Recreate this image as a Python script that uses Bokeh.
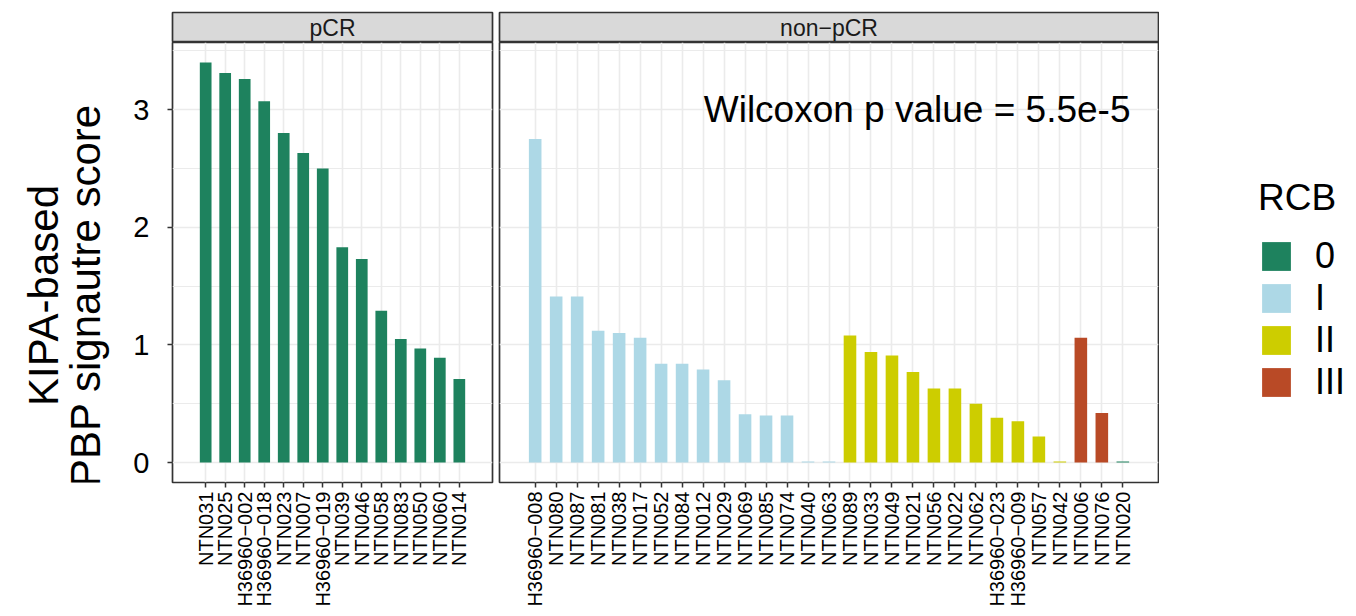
from math import pi
from bokeh.plotting import figure
from bokeh.models import (ColumnDataSource, FactorRange, Range1d, FixedTicker,
                          Label, Legend, LegendItem)
from bokeh.layouts import row, column
from bokeh.transform import factor_cmap
from bokeh.embed import file_html
from bokeh.resources import INLINE

FONT = "Liberation Sans"

# ---------------- data ----------------
pcr_samples = ["NTN031", "NTN025", "H36960\u2212002", "H36960\u2212018", "NTN023", "NTN007",
               "H36960\u2212019", "NTN039", "NTN046", "NTN058", "NTN083", "NTN050",
               "NTN060", "NTN014"]
pcr_scores = [3.40, 3.31, 3.26, 3.07, 2.80, 2.63, 2.50, 1.83, 1.73, 1.29, 1.05, 0.97,
              0.89, 0.71]
pcr_rcb = ["0", "0", "0", "0", "0", "0", "0", "0", "0", "0", "0", "0", "0", "0"]

nonpcr_samples = ["H36960\u2212008", "NTN080", "NTN087", "NTN081", "NTN038", "NTN017",
                  "NTN052", "NTN084", "NTN012", "NTN029", "NTN069", "NTN085", "NTN074",
                  "NTN040", "NTN063", "NTN089", "NTN033", "NTN049", "NTN021", "NTN056",
                  "NTN022", "NTN062", "H36960\u2212023", "H36960\u2212009", "NTN057",
                  "NTN042", "NTN006", "NTN076", "NTN020"]
nonpcr_scores = [2.75, 1.41, 1.41, 1.12, 1.10, 1.06, 0.84, 0.84, 0.79, 0.70, 0.41, 0.40,
                 0.40, 0.008, 0.008, 1.08, 0.94, 0.91, 0.77, 0.63, 0.63, 0.50, 0.38, 0.35,
                 0.22, 0.008, 1.06, 0.42, 0.008]
nonpcr_rcb = ["I", "I", "I", "I", "I", "I", "I", "I", "I", "I", "I", "I", "I", "I", "I",
              "II", "II", "II", "II", "II", "II", "II", "II", "II", "II", "II",
              "III", "III", "0"]

rcb_levels = ["0", "I", "II", "III"]
rcb_palette = ["#1E825E", "#ADD8E6", "#CDCD00", "#B94A26"]

panel_titles = ["pCR", "non\u2212pCR"]
y_ticks = [0, 1, 2, 3]
y_minor = [0.5, 1.5, 2.5, 3.5]
y_title_lines = ["KIPA-based", "PBP signautre score"]
annot_text = "Wilcoxon p value = 5.5e-5"
annot_y = 3.0

# ---------------- layout constants ----------------
GRID = "#EBEBEB"
BORDER = "#333333"
TITLE_W = 110
LEFT = 172
FRAME_H = 440
BOTTOM = 128
PANEL_H = FRAME_H + BOTTOM

ymax = max(pcr_scores + nonpcr_scores)
y_range = Range1d(-0.05 * ymax, 1.05 * ymax)
cmap = factor_cmap("rcb", palette=rcb_palette, factors=rcb_levels)


def bare(width, height, left, right, top, bottom, x_range=None, y_rng=None):
    f = figure(width=width, height=height, min_border_left=left, min_border_right=right,
               min_border_top=top, min_border_bottom=bottom,
               x_axis_location=None, y_axis_location=None,
               x_range=x_range if x_range is not None else Range1d(0, 1),
               y_range=y_rng if y_rng is not None else Range1d(0, 1),
               output_backend="svg", toolbar_location=None)
    f.grid.visible = False
    f.outline_line_color = None
    return f


def make_panel(samples, scores, rcb, width, left, right, show_y):
    src = ColumnDataSource(dict(sample=samples, score=scores, rcb=rcb))
    p = figure(x_range=FactorRange(factors=samples, range_padding=1.2,
                                   range_padding_units="absolute"),
               y_range=y_range, width=width, height=PANEL_H,
               min_border_left=left, min_border_right=right,
               min_border_top=0, min_border_bottom=BOTTOM,
               y_axis_location="left" if show_y else None,
               output_backend="svg", toolbar_location=None)
    p.vbar(x="sample", top="score", width=0.6, source=src, line_color=None,
           fill_color=cmap)
    p.background_fill_color = "white"
    p.outline_line_color = BORDER
    p.outline_line_width = 1.7
    p.xgrid.grid_line_color = GRID
    p.xgrid.grid_line_width = 1.6
    p.ygrid.ticker = FixedTicker(ticks=y_ticks, minor_ticks=y_minor)
    p.ygrid.grid_line_color = GRID
    p.ygrid.grid_line_width = 1.6
    p.ygrid.minor_grid_line_color = GRID
    p.ygrid.minor_grid_line_width = 1.0
    xa = p.xaxis[0]
    xa.major_label_orientation = pi / 2
    xa.major_label_text_font = FONT
    xa.major_label_text_font_size = "20px"
    xa.major_label_text_color = "black"
    xa.major_label_standoff = 4
    xa.major_tick_out = 5
    xa.major_tick_in = 0
    xa.major_tick_line_color = BORDER
    xa.major_tick_line_width = 1.5
    xa.axis_line_color = None
    if show_y:
        ya = p.yaxis[0]
        ya.ticker = FixedTicker(ticks=y_ticks, minor_ticks=y_minor)
        ya.major_label_text_font = FONT
        ya.major_label_text_font_size = "29px"
        ya.major_label_text_color = "black"
        ya.major_label_standoff = 18
        ya.major_tick_out = 5
        ya.major_tick_in = 0
        ya.major_tick_line_color = BORDER
        ya.major_tick_line_width = 1.5
        ya.minor_tick_line_color = None
        ya.axis_line_color = None
    return p, src


def make_strip(text, width, left, right):
    s = bare(width, 42, left, right, 12, 0)
    s.background_fill_color = "#D9D9D9"
    s.outline_line_color = BORDER
    s.outline_line_width = 1.7
    s.add_layout(Label(x=0.5, y=0.5, text=text, text_align="center",
                       text_baseline="middle", text_font=FONT,
                       text_font_size="23px", text_color="#1A1A1A"))
    return s


# y-axis title column
tf = bare(TITLE_W, PANEL_H, 0, 0, 0, BOTTOM)
for txt, sx in zip(y_title_lines, [43, 85]):
    tf.add_layout(Label(x=sx, y=187, x_units="screen", y_units="screen",
                        text=txt, angle=pi / 2, text_align="center",
                        text_baseline="alphabetic", text_font=FONT,
                        text_font_size="42px", text_color="black"))

p1, src1 = make_panel(pcr_samples, pcr_scores, pcr_rcb, LEFT - TITLE_W + 320 + 3,
                      LEFT - TITLE_W, 3, True)
p2, src2 = make_panel(nonpcr_samples, nonpcr_scores, nonpcr_rcb, 4 + 659 + 1, 4, 1, False)
p2.add_layout(Label(x=631, y=annot_y, x_units="screen", y_units="data",
                    text=annot_text, text_align="right", text_baseline="alphabetic",
                    text_font=FONT, text_font_size="37px", text_color="black"))

# legend column (legend keys taken from the plotted bars' colours)
lg = bare(191, PANEL_H, 0, 0, 0, BOTTOM, x_range=p2.x_range, y_rng=y_range)
lr = lg.vbar(x="sample", top="score", width=0.6, source=src2, line_color=None,
             fill_color=cmap, visible=False)
items = [LegendItem(label=lvl, renderers=[lr], index=nonpcr_rcb.index(lvl))
         for lvl in rcb_levels]
legend = Legend(items=items, title="RCB", location=(99, 79), margin=0, padding=0,
                spacing=0, glyph_width=36, glyph_height=36, label_height=36,
                label_standoff=21, label_text_font=FONT, label_text_font_size="36px",
                label_text_color="black", label_text_baseline="middle",
                title_text_font=FONT, title_text_font_size="37px",
                title_text_font_style="normal", title_text_color="black",
                title_standoff=16, border_line_color=None, background_fill_alpha=0,
                inactive_fill_alpha=0)
lg.add_layout(legend)

s1 = make_strip(panel_titles[0], LEFT + 320 + 3, LEFT, 3)
s2 = make_strip(panel_titles[1], 4 + 659 + 1, 4, 1)

layout = column(row(s1, s2), row(tf, p1, p2, lg))

with open("out.html", "w") as f:
    f.write(file_html(layout, INLINE))
